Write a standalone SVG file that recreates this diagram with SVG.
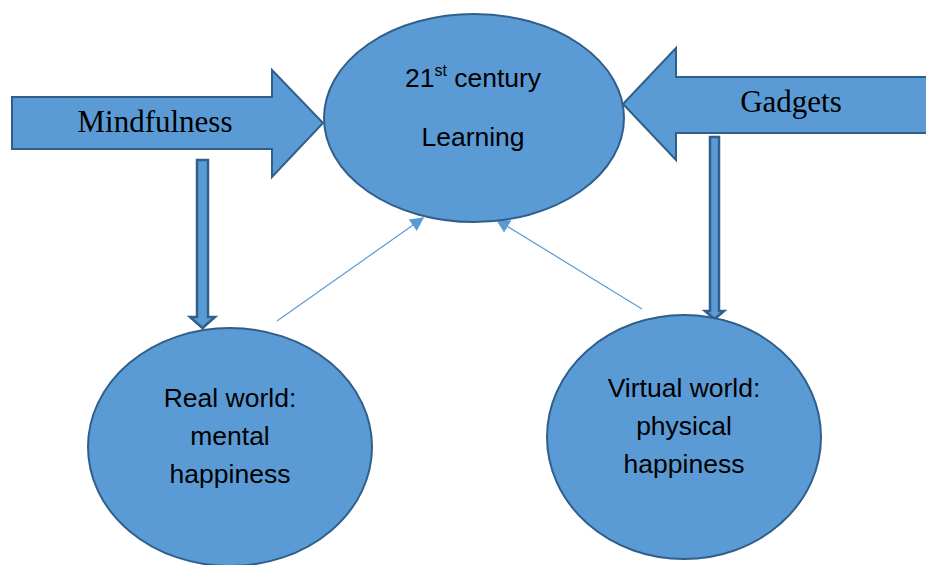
<svg xmlns="http://www.w3.org/2000/svg" width="926" height="565" viewBox="0 0 926 565">
<defs>
<style>
.shape{fill:#5B9BD5;stroke:#2F5F8A;stroke-width:2}
.down{fill:#5B9BD5;stroke:#2F5F8A;stroke-width:2.5}
.line{stroke:#5B9BD5;stroke-width:1.2;fill:none}
.sans{font-family:"Liberation Sans",Arial,sans-serif;font-size:26.5px;fill:#000;text-anchor:middle}
.serif{font-family:"Liberation Serif","Times New Roman",serif;font-size:31px;fill:#000;text-anchor:middle}
</style>
<marker id="tri" viewBox="0 0 10 10" refX="9" refY="5" markerWidth="14" markerHeight="14" markerUnits="userSpaceOnUse" orient="auto">
<path d="M0,0 L10,5 L0,10 Z" fill="#5B9BD5"/>
</marker>
</defs>
<rect width="926" height="565" fill="#fff"/>
<g id="connectors">
<line class="line" x1="277" y1="321" x2="423" y2="218" marker-end="url(#tri)"/>
<line class="line" x1="642" y1="309" x2="497" y2="220" marker-end="url(#tri)"/>
<path class="down" d="M197,160 L208,160 L208,317 L215,317 L202.5,328 L190,317 L197,317 Z"/>
<path class="down" d="M710,137 L719,137 L719,311 L724,311 L714.5,319 L705,311 L710,311 Z"/>
</g>
<g id="mindfulness">
<path class="shape" d="M12,97 L272,97 L272,70 L323,123 L272,177 L272,149 L12,149 Z"/>
<text class="serif" x="155" y="132">Mindfulness</text>
</g>
<g id="gadgets">
<path class="shape" d="M930,77 L676,77 L676,48 L623,104 L676,160 L676,133 L930,133 Z"/>
<text class="serif" x="791" y="112">Gadgets</text>
</g>
<g id="learning">
<ellipse class="shape" cx="474" cy="118" rx="150" ry="104"/>
<text class="sans" x="473" y="87">21<tspan font-size="16" dy="-11">st</tspan><tspan dy="11"> century</tspan></text>
<text class="sans" x="473" y="146">Learning</text>
</g>
<g id="real">
<ellipse class="shape" cx="230" cy="447" rx="142" ry="119"/>
<text class="sans" x="230" y="407">Real world:</text>
<text class="sans" x="230" y="445">mental</text>
<text class="sans" x="230" y="483">happiness</text>
</g>
<g id="virtual">
<ellipse class="shape" cx="684" cy="437" rx="137" ry="122"/>
<text class="sans" x="684" y="397">Virtual world:</text>
<text class="sans" x="684" y="435">physical</text>
<text class="sans" x="684" y="473">happiness</text>
</g>
</svg>
